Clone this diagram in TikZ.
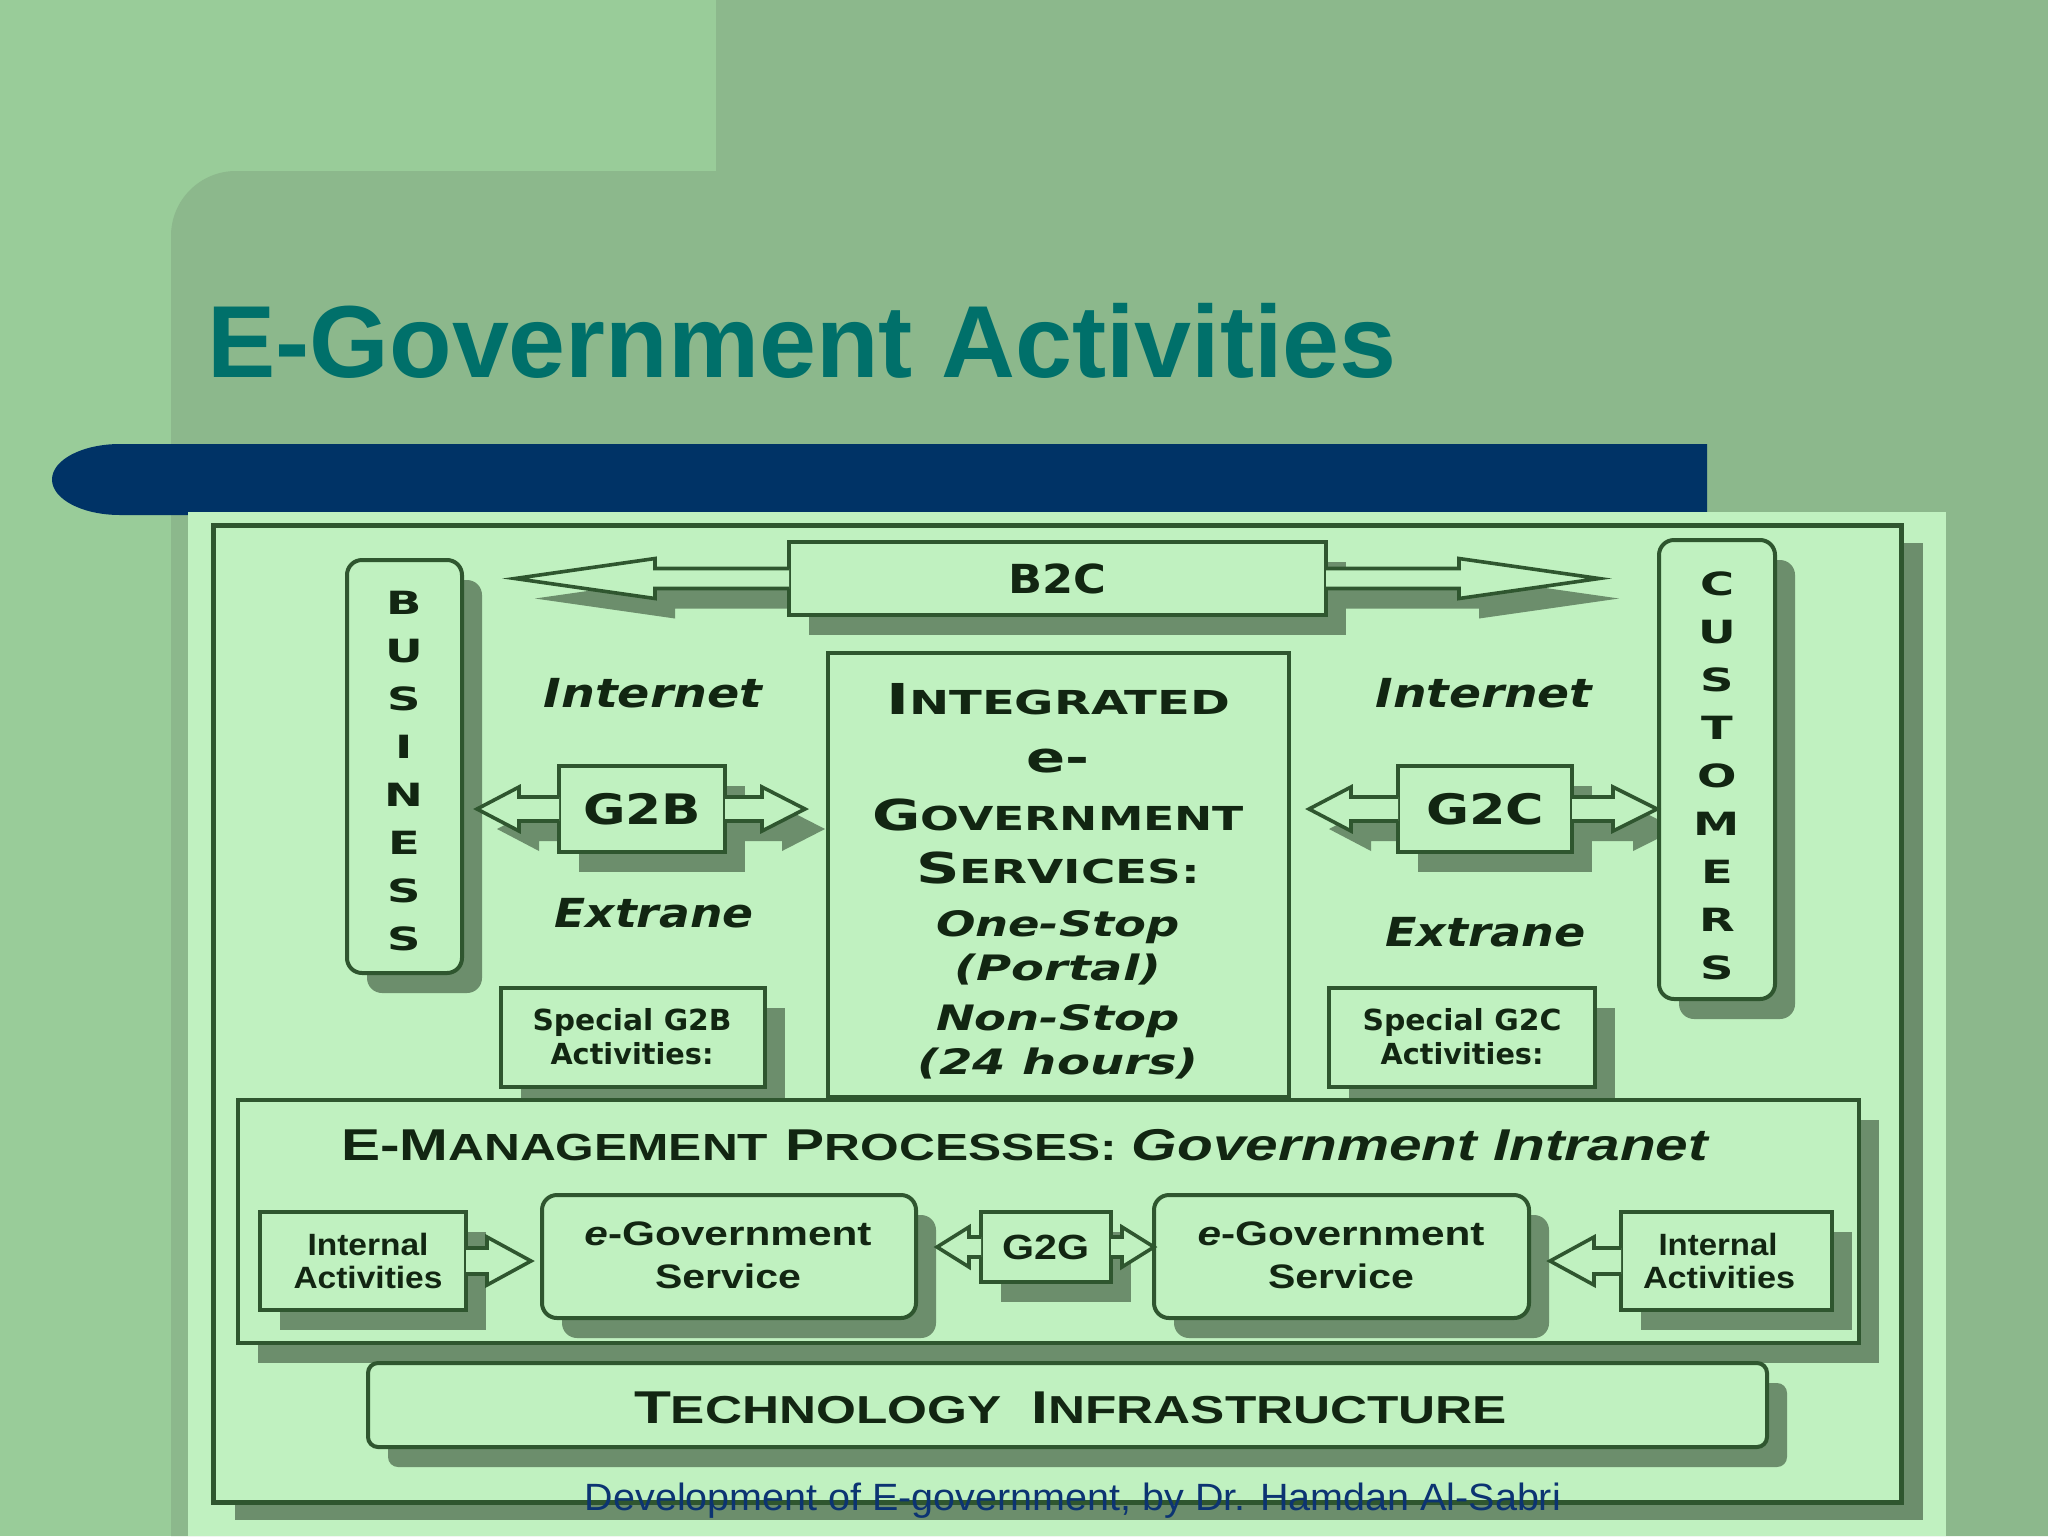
\documentclass[tikz,border=0pt]{standalone}
\usepackage{fontspec}
\usepackage{graphicx}
\setmainfont{DejaVu Sans}
\newfontfamily\lib{Liberation Sans}
\usetikzlibrary{shadows,calc}
\pgfdeclarelayer{bglayer}
\pgfdeclarelayer{shlayer}
\pgfsetlayers{bglayer,shlayer,main}
\newlength\pxu \setlength\pxu{0.5pt}
\newcommand\fitw[2]{\resizebox{#1\pxu}{\height}{#2}}
\newcommand\fs[1]{\fontsize{#1}{#1}\selectfont}
\newcommand\SCx[4]{{\fs{#1}#3}{\fs{#2}#4}}
\definecolor{lightbg}{HTML}{99CC99}
\definecolor{darkbg}{HTML}{8CB88C}
\definecolor{titlec}{HTML}{00706A}
\definecolor{navy}{HTML}{003366}
\definecolor{imgc}{HTML}{C0F1C0}
\definecolor{shc}{HTML}{6C8E6C}
\definecolor{lnc}{HTML}{2F562F}
\definecolor{txt}{HTML}{122612}
\definecolor{footc}{HTML}{0C3472}
% #1 style, #2 from, #3 tip, #4 dir, #5 head length, #6 head half, #7 shaft half (px)
\newcommand\barrow[7]{%
 \path[#1] let \p1=(#2), \p2=(#3) in
  (\x1,{\y1+#7*0.5pt}) -- ({\x2-(#4)*#5*0.5pt},{\y1+#7*0.5pt})
  -- ({\x2-(#4)*#5*0.5pt},{\y1+#6*0.5pt}) -- (\x2,\y1)
  -- ({\x2-(#4)*#5*0.5pt},{\y1-#6*0.5pt}) -- ({\x2-(#4)*#5*0.5pt},{\y1-#7*0.5pt})
  -- (\x1,{\y1-#7*0.5pt});}
\begin{document}
\begin{tikzpicture}[x=0.5pt,y=-0.5pt,
 bx/.style={draw=lnc, line width=2pt, fill=imgc, inner sep=0pt, outer sep=0pt, text=txt},
 bxs/.style={bx, drop shadow={shadow xshift=10pt, shadow yshift=-10pt, fill=shc, opacity=1}},
 wh/.style 2 args={minimum width={#1*0.5pt}, minimum height={#2*0.5pt}},
 tx/.style={inner sep=0pt, outer sep=0pt, text=txt, anchor=base},
 letter/.style={inner sep=0pt, text=txt, font={\bfseries\fs{16}}},
 bar/.style={draw=lnc, line width=1.8pt, fill=imgc, line join=miter, miter limit=20},
 barsh/.style={fill=shc}]
\useasboundingbox (0,0) rectangle (2048,1536);
\begin{pgfonlayer}{bglayer}
\fill[lightbg] (0,0) rectangle (2048,1536);
\fill[darkbg] (716,0) rectangle (2048,172);
\fill[darkbg] (171,1536) -- (171,236) .. controls (171,200) and (200,171) .. (236,171) -- (2048,171) -- (2048,1536) -- cycle;
\node[anchor=base west, inner sep=0pt, text=titlec, font={\lib\bfseries\fs{51.2}}] (title) at (207,377) {E-Government Activities};
\fill[navy] (1707,444) -- (120,444) .. controls (82,444) and (52,460) .. (52,479.5) .. controls (52,499) and (82,515) .. (120,515) -- (1707,515) -- cycle;
\fill[imgc] (188,512) rectangle (1946,1536);
\node[bx, line width=2.5pt, wh={1688}{977}, drop shadow={shadow xshift=11pt, shadow yshift=-9pt, fill=shc, opacity=1}] (frame) at (1057,1013.5) {};
\end{pgfonlayer}

% boxes
\node[bxs, rounded corners=7.5pt, wh={115}{413}] (bus) at (404.5,766.5) {};
\node[bxs, rounded corners=7.5pt, wh={116}{459}] (cus) at (1717,769.5) {};
\node[bxs, wh={537}{73}, font={\bfseries\fs{20}}] (b2c) at (1057.5,578.5) {\fitw{98}{B2C}};
\node[bx, wh={461}{444}] (igs) at (1058.5,875) {};
\node[bxs, wh={166}{86}, font={\bfseries\fs{21}}] (g2b) at (642,809) {\fitw{118}{G2B}};
\node[bxs, wh={174}{86}, font={\bfseries\fs{21}}] (g2c) at (1485,809) {\fitw{118}{G2C}};
\node[bxs, wh={264}{99}] (sg2b) at (633,1037.5) {};
\node[bxs, wh={266}{99}] (sg2c) at (1462,1037.5) {};
\node[bxs, wh={1621}{243}] (emg) at (1048.5,1221.5) {};
\node[bxs, wh={206}{98}] (ia1) at (363,1261) {};
\node[bxs, rounded corners=7.5pt, wh={374}{123}] (egs1) at (729,1256.5) {};
\node[bxs, wh={130}{70}, font={\lib\bfseries\fs{17.5}}] (g2g) at (1046,1247) {\fitw{87}{G2G}};
\node[bxs, rounded corners=7.5pt, wh={375}{123}] (egs2) at (1341.5,1256.5) {};
\node[bxs, wh={211}{98}] (ia2) at (1726.5,1261) {};
\node[bxs, rounded corners=5pt, wh={1399}{84}] (tech) at (1067.5,1405) {};

% vertical labels
\foreach \l [count=\i] in {B,U,S,I,N,E,S,S}
  \node[letter] (bus\i) at (404,{603+48*(\i-1)}) {\scalebox{1.45}[1]{\l}};
\foreach \l [count=\i] in {C,U,S,T,O,M,E,R,S}
  \node[letter] (cus\i) at (1717,{584+48*(\i-1)}) {\scalebox{1.45}[1]{\l}};

% centre box text
\begin{scope}[every node/.style={tx, font=\bfseries}]
\node (igs1) at (1058,714) {\fitw{344}{\SCx{21.3}{16.5}{I}{NTEGRATED}}};
\node (igs2) at (1058,772) {\fitw{63}{\fs{21}e-}};
\node (igs3) at (1058,830) {\fitw{372}{\SCx{21.3}{16.5}{G}{OVERNMENT}}};
\node (igs4) at (1058,883) {\fitw{284}{\SCx{21.3}{16.5}{S}{ERVICES:}}};
\node (igs5) at (1058,936) {\fitw{244}{\itshape\fs{17.5}One-Stop}};
\node (igs6) at (1058,980) {\fitw{207}{\itshape\fs{17.5}(Portal)}};
\node (igs7) at (1058,1030) {\fitw{244}{\itshape\fs{17.5}Non-Stop}};
\node (igs8) at (1058,1074) {\fitw{281}{\itshape\fs{17.5}(24 hours)}};
\end{scope}

% Internet / Extrane
\begin{scope}[every node/.style={tx, font={\bfseries\itshape\fs{20}}}]
\node (inetL) at (653,707) {\fitw{219}{Internet}};
\node (extL) at (654,927) {\fitw{199}{Extrane}};
\node (inetR) at (1484,707) {\fitw{217}{Internet}};
\node (extR) at (1485.5,946) {\fitw{201}{Extrane}};
\end{scope}

% special activities
\begin{scope}[every node/.style={tx, font={\bfseries\fs{14.5}}}]
\node (sg2bt1) at (632,1030) {\fitw{199}{Special G2B}};
\node (sg2bt2) at (632,1064) {\fitw{163}{Activities:}};
\node (sg2ct1) at (1462,1030) {\fitw{199}{Special G2C}};
\node (sg2ct2) at (1462,1064) {\fitw{163}{Activities:}};
\end{scope}

% e-management
\node[tx, anchor=base west, font={\lib\bfseries\fs{22.3}}] (emgt) at (341,1160)
  {\fitw{1367}{\SCx{22.3}{18.9}{E-M}{ANAGEMENT}\hspace{0.3em}\SCx{22.3}{18.9}{P}{ROCESSES:}\hspace{0.25em}{\itshape\fs{22.3}Government Intranet}}};
\begin{scope}[every node/.style={tx, font={\lib\bfseries\fs{15.4}}}]
\node (ia1t1) at (368,1255) {\fitw{121}{Internal}};
\node (ia1t2) at (368,1288) {\fitw{149}{Activities}};
\node (ia2t1) at (1718,1255) {\fitw{119}{Internal}};
\node (ia2t2) at (1719,1288) {\fitw{152}{Activities}};
\end{scope}
\begin{scope}[every node/.style={tx, font={\lib\bfseries\fs{17}}}]
\node (egs1t1) at (728,1245) {\fitw{287}{\textit{e}-Government}};
\node (egs1t2) at (728,1288) {\fitw{146}{Service}};
\node (egs2t1) at (1341,1245) {\fitw{287}{\textit{e}-Government}};
\node (egs2t2) at (1341,1288) {\fitw{146}{Service}};
\end{scope}
\node[tx, anchor=base west, font={\lib\bfseries\fs{23}}] (techt) at (634,1423)
  {\fitw{873}{\SCx{23}{19.5}{T}{ECHNOLOGY}\hspace{0.5em}\SCx{23}{19.5}{I}{NFRASTRUCTURE}}};

% arrow tips
\coordinate (b2cL) at (515,578.5);
\coordinate (b2cR) at (1599,578.5);
\coordinate (g2bL) at (477,809);
\coordinate (g2bR) at (805,809);
\coordinate (g2cL) at (1309,809);
\coordinate (g2cR) at (1657,809);
\coordinate (ia1T) at (531,1261);
\coordinate (g2gL) at (937,1247);
\coordinate (g2gR) at (1154,1247);
\coordinate (ia2T) at (1550,1261);

\begin{pgfonlayer}{shlayer}
\begin{scope}[transform canvas={shift={(10pt,-10pt)}}]
\barrow{barsh}{b2c.west}{b2cL}{-1}{140}{20}{10}
\barrow{barsh}{b2c.east}{b2cR}{1}{140}{20}{10}
\barrow{barsh}{g2b.west}{g2bL}{-1}{42}{22}{12}
\barrow{barsh}{g2b.east}{g2bR}{1}{43}{22}{12}
\barrow{barsh}{g2c.west}{g2cL}{-1}{42}{22}{12}
\barrow{barsh}{g2c.east}{g2cR}{1}{44}{22}{12}
\barrow{barsh}{ia1.east}{ia1T}{1}{44}{24}{13}
\barrow{barsh}{g2g.west}{g2gL}{-1}{32}{20}{10}
\barrow{barsh}{g2g.east}{g2gR}{1}{32}{20}{10}
\barrow{barsh}{ia2.west}{ia2T}{-1}{44}{24}{13}
\end{scope}
\end{pgfonlayer}

\barrow{bar}{b2c.west}{b2cL}{-1}{140}{20}{10}
\barrow{bar}{b2c.east}{b2cR}{1}{140}{20}{10}
\barrow{bar}{g2b.west}{g2bL}{-1}{42}{22}{12}
\barrow{bar}{g2b.east}{g2bR}{1}{43}{22}{12}
\barrow{bar}{g2c.west}{g2cL}{-1}{42}{22}{12}
\barrow{bar}{g2c.east}{g2cR}{1}{44}{22}{12}
\barrow{bar}{ia1.east}{ia1T}{1}{44}{24}{13}
\barrow{bar}{g2g.west}{g2gL}{-1}{32}{20}{10}
\barrow{bar}{g2g.east}{g2gR}{1}{32}{20}{10}
\barrow{bar}{ia2.west}{ia2T}{-1}{44}{24}{13}

\node[tx, text=footc, font={\lib\fs{19}}] (foot) at (1073,1510)
  {\fitw{976}{Development of E-government, by Dr. Hamdan Al-Sabri}};
\end{tikzpicture}
\end{document}
